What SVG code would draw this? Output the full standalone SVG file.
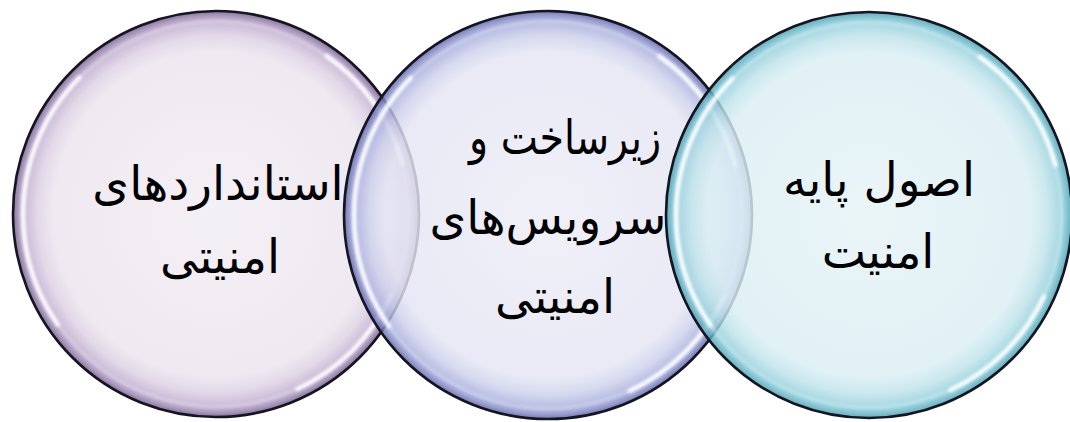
<svg xmlns="http://www.w3.org/2000/svg" width="1070" height="422" viewBox="0 0 1070 422">
<style>
.bubble{stroke:#15151f;stroke-width:2.6;fill-opacity:0.82}
.ring{fill:none;stroke:#ffffff;stroke-width:3;stroke-opacity:0.35;filter:url(#blur)}
.shine{fill:none;stroke:#ffffff;stroke-width:4.5;stroke-opacity:0.9;filter:url(#blur);stroke-dasharray:40 80 80 80 40 40;stroke-dashoffset:-25;stroke-linecap:round}
.lbl{font-family:"DejaVu Sans","Noto Sans",sans-serif;font-size:47px;fill:#000;text-anchor:middle;direction:rtl}
</style>
<defs>
<filter id="blur" x="-10%" y="-10%" width="120%" height="120%"><feGaussianBlur stdDeviation="1.4"/></filter>
<radialGradient id="gL" cx="50%" cy="50%" r="50%">
<stop offset="0" stop-color="#f1edf3"/>
<stop offset="0.8" stop-color="#ebe5ee"/>
<stop offset="0.88" stop-color="#dcd0e3"/>
<stop offset="0.94" stop-color="#c0aed0"/>
<stop offset="0.975" stop-color="#9c86b3"/>
<stop offset="1" stop-color="#6c5586"/>
</radialGradient>
<radialGradient id="gC" cx="50%" cy="50%" r="50%">
<stop offset="0" stop-color="#ecedf6"/>
<stop offset="0.8" stop-color="#e4e5f3"/>
<stop offset="0.88" stop-color="#cdd0eb"/>
<stop offset="0.94" stop-color="#aab0de"/>
<stop offset="0.975" stop-color="#858dc8"/>
<stop offset="1" stop-color="#575ea6"/>
</radialGradient>
<radialGradient id="gR" cx="50%" cy="50%" r="50%">
<stop offset="0" stop-color="#e6f3f6"/>
<stop offset="0.8" stop-color="#daeef3"/>
<stop offset="0.88" stop-color="#bfe3ea"/>
<stop offset="0.94" stop-color="#96d1dd"/>
<stop offset="0.975" stop-color="#6cbacb"/>
<stop offset="1" stop-color="#4499ad"/>
</radialGradient>
</defs>
<g id="node-standards">
<circle class="bubble" cx="216" cy="214" r="203" fill="url(#gL)"/>
<circle class="ring" cx="216" cy="214" r="193"/>
<circle class="shine" cx="216" cy="214" r="193" pathLength="360"/>
<text class="lbl" x="218" y="200">استانداردهای</text>
<text class="lbl" x="220" y="273">امنیتی</text>
</g>
<g id="node-infrastructure">
<circle class="bubble" cx="548" cy="215" r="204" fill="url(#gC)"/>
<circle class="ring" cx="548" cy="215" r="194"/>
<circle class="shine" cx="548" cy="215" r="194" pathLength="360"/>
<text class="lbl" x="565" y="154" textLength="192" lengthAdjust="spacingAndGlyphs">زیرساخت و</text>
<text class="lbl" x="548" y="234">سرویس‌های</text>
<text class="lbl" x="555" y="313">امنیتی</text>
</g>
<g id="node-principles">
<circle class="bubble" cx="869" cy="215" r="203" fill="url(#gR)"/>
<circle class="ring" cx="869" cy="215" r="193"/>
<circle class="shine" cx="869" cy="215" r="193" pathLength="360"/>
<text class="lbl" x="879" y="196">اصول پایه</text>
<text class="lbl" x="878" y="268">امنیت</text>
</g>
<g id="connectors"></g>
</svg>
